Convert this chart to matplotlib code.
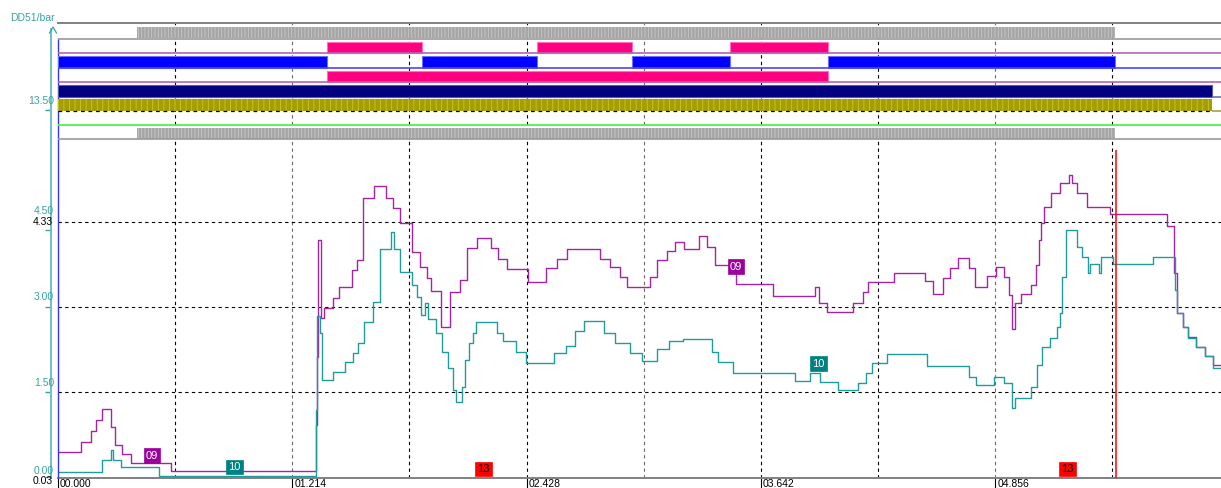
import matplotlib
matplotlib.use("Agg")
import matplotlib.pyplot as plt
from matplotlib.lines import Line2D

# ---- analog channels: time (s) / pressure (bar), step signals ----
ch09_t = [0.000, 0.119, 0.171, 0.197, 0.228, 0.275, 0.295, 0.332, 0.378, 0.585,
          1.337, 1.342, 1.347, 1.363, 1.378, 1.425, 1.456, 1.523, 1.549, 1.580,
          1.637, 1.699, 1.736, 1.772, 1.834, 1.876, 1.912, 1.933, 1.984, 2.031,
          2.083, 2.119, 2.171, 2.243, 2.280, 2.326, 2.435, 2.528, 2.585, 2.637,
          2.808, 2.860, 2.912, 2.948, 3.067, 3.104, 3.155, 3.197, 3.244, 3.321,
          3.363, 3.404, 3.513, 3.705, 3.922, 3.943, 3.984, 4.119, 4.171, 4.197,
          4.332, 4.492, 4.534, 4.585, 4.622, 4.663, 4.720, 4.751, 4.813, 4.860,
          4.902, 4.927, 4.943, 4.959, 4.990, 5.041, 5.067, 5.083, 5.093, 5.109,
          5.145, 5.192, 5.238, 5.254, 5.280, 5.332, 5.451, 5.746, 5.782, 5.798,
          5.829, 5.855, 5.896, 5.943, 5.984, 6.026]
ch09_v = [0.441, 0.607, 0.812, 1.001, 1.195, 0.877, 0.559, 0.401, 0.242, 0.101,
          0.912, 2.112, 4.177, 2.800, 2.977, 3.153, 3.347, 3.647, 3.824, 4.918,
          5.130, 4.918, 4.741, 4.477, 3.965, 3.700, 3.506, 3.277, 2.642, 3.259,
          3.471, 4.036, 4.212, 4.036, 3.842, 3.665, 3.436, 3.683, 3.842, 4.018,
          3.842, 3.700, 3.524, 3.347, 3.524, 3.824, 3.983, 4.142, 4.018, 4.247,
          4.053, 3.736, 3.400, 3.189, 3.347, 3.065, 2.906, 3.065, 3.259, 3.436,
          3.594, 3.453, 3.224, 3.506, 3.683, 3.859, 3.683, 3.347, 3.542, 3.700,
          3.524, 3.206, 2.606, 3.065, 3.224, 3.383, 3.736, 4.177, 4.477, 4.759,
          5.006, 5.183, 5.324, 5.183, 5.006, 4.759, 4.636, 4.424, 3.594, 2.889,
          2.642, 2.465, 2.289, 2.130, 1.971, 1.971]

ch10_t = [0.000, 0.228, 0.275, 0.285, 0.326, 0.523, 1.337, 1.342, 1.357, 1.368,
          1.425, 1.487, 1.528, 1.554, 1.585, 1.632, 1.668, 1.725, 1.741, 1.772,
          1.834, 1.860, 1.881, 1.902, 1.917, 1.958, 1.990, 2.021, 2.047, 2.062,
          2.093, 2.109, 2.130, 2.150, 2.166, 2.275, 2.306, 2.373, 2.425, 2.570,
          2.632, 2.679, 2.725, 2.829, 2.886, 2.964, 3.026, 3.104, 3.166, 3.238,
          3.389, 3.420, 3.497, 3.819, 3.896, 3.948, 4.041, 4.145, 4.187, 4.218,
          4.295, 4.503, 4.720, 4.756, 4.850, 4.902, 4.943, 4.959, 5.041, 5.073,
          5.098, 5.140, 5.176, 5.192, 5.202, 5.223, 5.280, 5.306, 5.337, 5.347,
          5.394, 5.404, 5.466, 5.674, 5.788, 5.798, 5.829, 5.855, 5.896, 5.943,
          5.984, 6.026]
ch10_v = [0.078, 0.295, 0.471, 0.295, 0.171, 0.018, 1.177, 2.836, 2.536, 1.706,
          1.848, 2.024, 2.183, 2.359, 2.730, 3.083, 4.018, 4.318, 4.018, 3.612,
          3.383, 3.171, 2.853, 3.065, 2.783, 2.536, 2.200, 1.918, 1.530, 1.318,
          1.583, 2.059, 2.359, 2.536, 2.730, 2.536, 2.395, 2.200, 2.006, 2.183,
          2.306, 2.571, 2.747, 2.536, 2.359, 2.183, 2.042, 2.253, 2.395, 2.430,
          2.200, 2.024, 1.830, 1.689, 1.830, 1.671, 1.530, 1.653, 1.830, 2.006,
          2.165, 1.953, 1.759, 1.618, 1.759, 1.653, 1.212, 1.389, 1.583, 1.971,
          2.289, 2.448, 2.642, 2.889, 3.524, 4.353, 4.053, 3.877, 3.594, 3.753,
          3.594, 3.877, 3.753, 3.877, 3.295, 2.889, 2.642, 2.448, 2.289, 2.130,
          1.918, 1.918]

# ---- digital channels: (on, off) times in s ----
gray_on = [(0.409, 5.477)]
pink1_on = [(1.394, 1.884), (2.483, 2.973), (3.482, 3.990)]
blue_on = [(0.000, 1.394), (1.884, 2.483), (2.973, 3.482), (3.990, 5.477)]
pink2_on = [(1.394, 3.990)]
navy_on = [(0.000, 5.979)]
olive_on = [(0.000, 5.979)]

x_ticks = [0.0, 1.214, 2.428, 3.642, 4.856]
x_labels = ["00.000", "01.214", "02.428", "03.642", "04.856"]
grid_t = [0.607, 1.214, 1.821, 2.428, 3.035, 3.642, 4.249, 4.856, 5.463]
grid_v = [1.5, 3.0, 4.5]
y_ticks = [0.0, 1.5, 3.0, 4.353, 6.47]
y_labels = ["0.00", "1.50", "3.00", "4.50", "13.50"]
cursor_t = 5.482
cursor_top = 5.765

# channel tags: text, time, value
tags09 = [("09", 0.487, 0.374), ("09", 3.513, 3.709)]
tags10 = [("10", 0.915, 0.171), ("10", 3.940, 1.997)]
tags13 = [("13", 2.205, 0.136), ("13", 5.231, 0.136)]

W, H = 1221, 488
TEAL = "#3aa3a3"
plt.rcParams["font.family"] = ["Liberation Sans", "DejaVu Sans"]
plt.rcParams["hatch.linewidth"] = 0.6

fig = plt.figure(figsize=(W / 100, H / 100), dpi=100)
rect = [58 / W, 10 / H, 1163 / W, 455 / H]
ax = fig.add_axes(rect)
ax.set_xlim(0, 6.026)
ax.set_ylim(-0.023, 8.006)

# grid
dash = (0, (3, 3))
for t in grid_t:
    c = "#6a6a6a" if t in (1.214, 3.035, 4.856) else "black"
    ax.axvline(t, color=c, lw=0.8, ls=dash, zorder=0)
for v in grid_v:
    ax.axhline(v, color="black", lw=0.8, ls=dash, zorder=0)

# traces
ax.plot(ch09_t, ch09_v, drawstyle="steps-post", color="#a524a5", lw=1.0, zorder=3)
ax.plot(ch10_t, ch10_v, drawstyle="steps-post", color="#1f9c9c", lw=1.0, zorder=3)

# cursor
ax.vlines(cursor_t, -0.023, cursor_top, color="red", lw=1.1, zorder=4)

# channel tags
for tags, fc, tc in [(tags09, "#9c009c", "white"), (tags10, "#008080", "white"),
                     (tags13, "#ff0000", "black")]:
    for txt, t, v in tags:
        ax.text(t, v, txt, color=tc, fontsize=8, ha="center", va="center", zorder=5,
                bbox=dict(boxstyle="square,pad=0.2", fc=fc, ec=fc, lw=0.5))

# spines / axes
ax.spines["right"].set_visible(False)
ax.spines["top"].set_color("#808080")
ax.spines["top"].set_linewidth(1.4)
ax.spines["bottom"].set_color("#808080")
ax.spines["bottom"].set_linewidth(1.4)
ax.spines["left"].set_position(("outward", 5))
ax.spines["left"].set_color("#70c0c0")
ax.spines["left"].set_linewidth(1.4)
ax.spines["left"].set_bounds(-0.023, 7.9)
ax.set_yticks(y_ticks)
ax.set_yticklabels([])
ax.tick_params(axis="y", color=TEAL, length=4, width=1)
ax.set_xticks(x_ticks)
ax.set_xticklabels([])
ax.tick_params(axis="x", color="black", length=7, width=0.8)

# y labels
offsets = [6, 9, 10, 19, 9]
for v, lab, off in zip(y_ticks, y_labels, offsets):
    ax.annotate(lab, xy=(0, v), xycoords=("axes fraction", "data"),
                xytext=(-4, off), textcoords="offset pixels",
                ha="right", va="center", color=TEAL, fontsize=7.5, annotation_clip=False)
ax.annotate("4.33", xy=(0, 4.5), xycoords=("axes fraction", "data"),
            xytext=(-5, 0), textcoords="offset pixels",
            ha="right", va="center", color="black", fontsize=7.5, annotation_clip=False)
ax.annotate("0.03", xy=(0, -0.023), xycoords=("axes fraction", "data"),
            xytext=(-5, -3), textcoords="offset pixels",
            ha="right", va="center", color="black", fontsize=7.5, annotation_clip=False)
# x labels
for t, lab in zip(x_ticks, x_labels):
    ax.annotate(lab, xy=(t, 0), xycoords=("data", "axes fraction"),
                xytext=(2, -1), textcoords="offset pixels",
                ha="left", va="top", color="black", fontsize=7.5, annotation_clip=False)

# blue channel line at left edge
ax.vlines(0, -0.023, 7.741, color="#3535ff", lw=1.0, clip_on=False, zorder=4)

# axis arrow and title
fig.add_artist(Line2D([49.5 / W, 53 / W, 56.5 / W], [1 - 33 / H, 1 - 27 / H, 1 - 33 / H],
                      color=TEAL, lw=0.9))
fig.text(10 / W, 1 - 18 / H, "DD51/bar", color=TEAL, fontsize=7.5, va="center", ha="left")

# ---- digital tracks (rows in pixel units, inverted) ----
ax2 = fig.add_axes(rect, sharex=ax)
ax2.set_ylim(478, 23)
ax2.patch.set_visible(False)
ax2.axis("off")
end = 6.026


def spans(on):
    return [(a, b - a) for a, b in on]


# low lines
ax2.hlines(39, 0, end, color="#9a9a9a", lw=1.2)
ax2.hlines(53.3, 0, end, color="#b464b4", lw=1.2)
ax2.hlines(68, 0, end, color="#4848ff", lw=1.2)
ax2.hlines(82.3, 0, end, color="#b464b4", lw=1.2)
ax2.hlines(97, navy_on[-1][1], end, color="#7070b0", lw=1.2)
ax2.hlines(111, olive_on[-1][1], end, color="#a8a040", lw=1.2)
ax2.hlines(111, 0, olive_on[-1][1], color="black", lw=0.9, ls=dash)
ax2.hlines(125, 0, end, color="#55ee55", lw=1.3)
ax2.hlines(139.3, 0, end, color="#9a9a9a", lw=1.2)

ax2.broken_barh(spans(gray_on), (26.7, 11.6), facecolors="#a6a6a6",
                edgecolor="#c8c8c8", hatch="|||||", linewidth=0)
ax2.broken_barh(spans(pink1_on), (41.7, 11.6), facecolors="#ff0080",
                edgecolor="#ff70b8", linewidth=0.8)
ax2.broken_barh(spans(blue_on), (56, 11.7), facecolors="#0000ff",
                edgecolor="#7070ff", linewidth=0.8)
ax2.broken_barh(spans(pink2_on), (70.7, 11.3), facecolors="#ff0080",
                edgecolor="#ff70b8", linewidth=0.8)
ax2.broken_barh(spans(navy_on), (85, 11.7), facecolors="#000080",
                edgecolor="#5a5aa8", linewidth=0.8)
ax2.broken_barh(spans(olive_on), (99.3, 11.7), facecolors="#a49e00",
                edgecolor="#cdc52a", hatch="|||", linewidth=0)
ax2.broken_barh(spans(gray_on), (127.7, 11.3), facecolors="#a6a6a6",
                edgecolor="#c8c8c8", hatch="|||||", linewidth=0)

fig.savefig("out.png", dpi=100)
